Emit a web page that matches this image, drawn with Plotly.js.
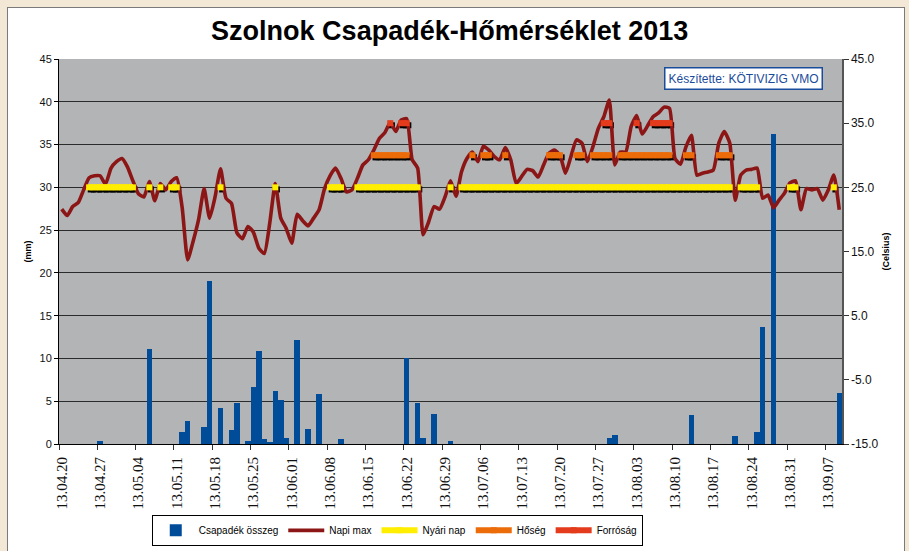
<!DOCTYPE html>
<html><head><meta charset="utf-8">
<script src="https://cdn.plot.ly/plotly-3.0.1.min.js"></script>
<style>
html,body{margin:0;padding:0;width:909px;height:551px;overflow:hidden;background:#f3e8d6;}
#chart{position:absolute;left:7px;top:7px;width:896px;height:560px;border:1px solid #7a7a7a;background:#fff;}
</style></head><body><div id="chart"></div>
<script>
// ---------------- data ----------------
const startDate = '2013-04-20';
const dayCount = 143;
const _ = null;

// Csapadék összeg (mm), one value per day from 2013-04-20
const precip = [
  0,0,0,0,0,0,0,0.3,0,0,
  0,0,0,0,0,0,11.1,0,0,0,
  0,0,1.4,2.7,0,0,2.0,19.0,0,4.2,
  0,1.6,4.8,0,0.4,6.7,10.9,0.6,0.2,6.2,
  5.2,0.7,0,12.2,0,1.8,0,5.9,0,0,
  0,0.6,0,0,0,0,0,0,0,0,
  0,0,0,10.0,0,4.8,0.7,0,3.5,0,
  0,0.4,0,0,0,0,0,0,0,0,
  0,0,0,0,0,0,0,0,0,0,
  0,0,0,0,0,0,0,0,0,0,
  0.7,1.1,0,0,0,0,0,0,0,0,
  0,0,0,0,0,3.4,0,0,0,0,
  0,0,0,0.9,0,0,0,1.4,13.7,0,
  36.2,0,0,0,0,0,0,0,0,0,
  0,0,6.0
];

// Napi max (°C)
const napiMax = [
  21.6,20.6,22.0,22.6,24.6,26.5,26.8,26.8,25.5,28.0,
  29.0,29.5,28.2,26.0,24.0,23.5,25.9,22.9,25.6,24.6,
  25.9,26.5,21.8,13.7,16.6,20.0,24.8,20.2,23.5,27.9,
  23.3,22.5,17.9,17.0,18.9,18.0,15.5,14.7,19.5,25.6,
  20.2,18.6,16.3,20.8,19.8,19.0,20.2,21.5,24.8,26.8,
  28.0,26.4,24.3,24.6,26.4,28.5,29.3,30.8,32.6,33.5,
  35.1,33.7,35.5,35.7,29.3,28.0,17.6,19.6,22.0,21.6,
  23.5,26.0,23.6,27.4,29.5,30.5,29.0,31.4,30.8,29.8,
  29.3,31.2,29.3,25.6,26.7,27.8,27.6,26.6,28.5,30.3,
  30.8,30.0,27.2,29.8,32.4,31.9,29.0,31.3,34.2,36.0,
  38.6,28.5,30.5,30.5,34.5,36.2,33.3,34.6,36.0,36.6,
  37.5,37.3,29.5,28.6,31.3,33.1,26.9,27.2,27.4,27.7,
  31.9,33.7,31.9,23.0,26.9,27.7,27.8,28.0,23.3,23.8,
  21.8,23.0,24.1,25.7,26.0,21.5,24.8,24.6,24.8,23.0,
  24.6,26.9,21.5
];

// Nyári nap (>=25 °C)
const nyariNap = [
  _,_,_,_,_,25,25,25,25,25,
  25,25,25,25,_,_,25,_,25,_,
  25,25,_,_,_,_,_,_,_,25,
  _,_,_,_,_,_,_,_,_,25,
  _,_,_,_,_,_,_,_,_,25,
  25,25,_,_,25,25,25,25,25,25,
  25,25,25,25,25,25,_,_,_,_,
  _,25,_,25,25,25,25,25,25,25,
  25,25,25,25,25,25,25,25,25,25,
  25,25,25,25,25,25,25,25,25,25,
  25,25,25,25,25,25,25,25,25,25,
  25,25,25,25,25,25,25,25,25,25,
  25,25,25,_,25,25,25,25,_,_,
  _,_,_,25,25,_,_,_,_,_,
  _,25,_
];

// Hőség (>=30 °C)
const hoseg = [
  _,_,_,_,_,_,_,_,_,_,
  _,_,_,_,_,_,_,_,_,_,
  _,_,_,_,_,_,_,_,_,_,
  _,_,_,_,_,_,_,_,_,_,
  _,_,_,_,_,_,_,_,_,_,
  _,_,_,_,_,_,_,30,30,30,
  30,30,30,30,_,_,_,_,_,_,
  _,_,_,_,_,30,_,30,30,_,
  _,30,_,_,_,_,_,_,_,30,
  30,30,_,_,30,30,_,30,30,30,
  30,_,30,30,30,30,30,30,30,30,
  30,30,_,_,30,30,_,_,_,_,
  30,30,30,_,_,_,_,_,_,_,
  _,_,_,_,_,_,_,_,_,_,
  _,_,_
];

// Forróság (>=35 °C)
const forrosag = [
  _,_,_,_,_,_,_,_,_,_,
  _,_,_,_,_,_,_,_,_,_,
  _,_,_,_,_,_,_,_,_,_,
  _,_,_,_,_,_,_,_,_,_,
  _,_,_,_,_,_,_,_,_,_,
  _,_,_,_,_,_,_,_,_,_,
  35,_,35,35,_,_,_,_,_,_,
  _,_,_,_,_,_,_,_,_,_,
  _,_,_,_,_,_,_,_,_,_,
  _,_,_,_,_,_,_,_,_,35,
  35,_,_,_,_,35,_,_,35,35,
  35,35,_,_,_,_,_,_,_,_,
  _,_,_,_,_,_,_,_,_,_,
  _,_,_,_,_,_,_,_,_,_,
  _,_,_
];

const rightTickVals = [-15,-5,5,15,25,35,45];
const rightTickText = ['-15.0','-5.0','5.0','15.0','25.0','35.0','45.0'];

// ---------------- helpers ----------------
const DAY = 86400000;
const t0 = Date.UTC(2013,3,20);
function fmt(ms){ return new Date(ms).toISOString().replace('T',' ').replace('Z',''); }
const dates = [];
for (let i = 0; i < dayCount; i++) dates.push(fmt(t0 + i*DAY));
const xr = [fmt(t0 - DAY/2), fmt(t0 + (dayCount-1)*DAY + DAY/2)];
const shX = 0.3*DAY; // shadow shift
const xrShadow = [fmt(t0 - DAY/2 - shX), fmt(t0 + (dayCount-1)*DAY + DAY/2 - shX)];
const shY = 0.33;

const FONT = 'Liberation Sans, Arial, sans-serif';
const cYellow = '#ffee00', cOrange = '#ec6c0a', cRed = '#e33b1b', cLine = '#8c1616', cBlue = '#004c99';

function markSeries(y, color, name, ax, show, shadow){
  return {
    type:'scatter', mode:'lines+markers', x: dates, y: y, name: name,
    xaxis: ax[0], yaxis: ax[1], showlegend: show, connectgaps:false,
    line:{color: shadow ? '#000' : color, width:6, dash: shadow ? '5px,1.5px' : 'solid'},
    marker:{symbol:'square', size:6, color: shadow ? '#000' : color},
    hoverinfo:'skip'
  };
}

const traces = [
  {type:'bar', x: dates, y: precip, name:'Csapadék összeg', marker:{color:cBlue, line:{width:0}},
   width: DAY, xaxis:'x', yaxis:'y'},
  markSeries(nyariNap, cYellow, 'sh1', ['x2','y2'], false, true),
  markSeries(hoseg, cOrange, 'sh2', ['x2','y2'], false, true),
  markSeries(forrosag, cRed, 'sh3', ['x2','y2'], false, true),
  {type:'scatter', mode:'lines', x: dates, y: napiMax, name:'Napi max', xaxis:'x3', yaxis:'y3',
   line:{color:cLine, width:3.6, shape:'spline', smoothing:0.5}},
  markSeries(nyariNap, cYellow, 'Nyári nap', ['x3','y3'], true, false),
  markSeries(hoseg, cOrange, 'Hőség', ['x3','y3'], true, false),
  markSeries(forrosag, cRed, 'Forróság', ['x3','y3'], true, false)
];

const layout = {
  width: 896, height: 560,
  margin:{l:51, r:62, t:51, b:124, pad:0},
  paper_bgcolor:'#ffffff', plot_bgcolor:'#b3b4b6',
  font:{family:FONT, color:'#111'},
  title:{text:'Szolnok Csapadék-Hőmérséklet 2013', font:{family:FONT, size:27, weight:'bold', color:'#000'},
         x:0.493, xref:'container', y:1-23/560, yref:'container', yanchor:'middle'},
  bargap:0,
  showlegend:true,
  legend:{orientation:'h', x:0.432, xanchor:'center', y:-0.184, yanchor:'top',
          bgcolor:'#ffffff', bordercolor:'#000', borderwidth:1, font:{family:FONT, size:10, color:'#000'},
          traceorder:'normal', itemwidth:36},
  xaxis:{type:'date', range:xr, tick0:'2013-04-20', dtick:7*DAY, tickformat:'%y.%m.%d',
         tickangle:-90, tickfont:{family:'"Liberation Serif", "Times New Roman", serif', size:15, color:'#111'},
         ticks:'', showgrid:false, showline:true, linecolor:'#000', linewidth:1, zeroline:false,
         ticklabelstandoff:6, fixedrange:true},
  yaxis:{range:[0,45], tick0:0, dtick:5, showgrid:true, gridcolor:'#2b2b2b', gridwidth:1,
         showline:true, linecolor:'#000', linewidth:1, ticks:'outside', ticklen:4, tickcolor:'#000',
         tickfont:{family:FONT, size:11, color:'#111'}, zeroline:false,
         title:{text:'(mm)', font:{family:FONT, size:9, weight:'bold', color:'#000'}, standoff:6}},
  xaxis2:{type:'date', overlaying:'x', range:xrShadow, visible:false},
  yaxis2:{overlaying:'y', range:[-15+shY, 45+shY], visible:false},
  xaxis3:{type:'date', overlaying:'x', range:xr, tick0:'2013-04-19 12:00', dtick:7*DAY,
          ticks:'outside', ticklen:5, tickcolor:'#333', showticklabels:false, showgrid:false,
          showline:false, zeroline:false},
  yaxis3:{overlaying:'y', side:'right', range:[-15,45], tickmode:'array', tickvals:rightTickVals,
          ticktext:rightTickText, showgrid:false, zeroline:false, showline:true, linecolor:'#555',
          linewidth:1.5, ticks:'outside', ticklen:5, tickcolor:'#333',
          tickfont:{family:FONT, size:12, color:'#111'},
          title:{text:'(Celsius)', font:{family:FONT, size:9, weight:'bold', color:'#000'}, standoff:5}},
  annotations:[{xref:'paper', yref:'paper', x:0.8736, y:0.949, xanchor:'center', yanchor:'middle',
    text:'Készítette: KÖTIVIZIG VMO', showarrow:false,
    font:{family:FONT, size:12, color:'#1a4c9c'}, bgcolor:'#ffffff', bordercolor:'#1a4c9c',
    borderwidth:1.5, borderpad:3}]
};

Plotly.newPlot('chart', traces, layout, {displayModeBar:false, staticPlot:true});
</script></body></html>
